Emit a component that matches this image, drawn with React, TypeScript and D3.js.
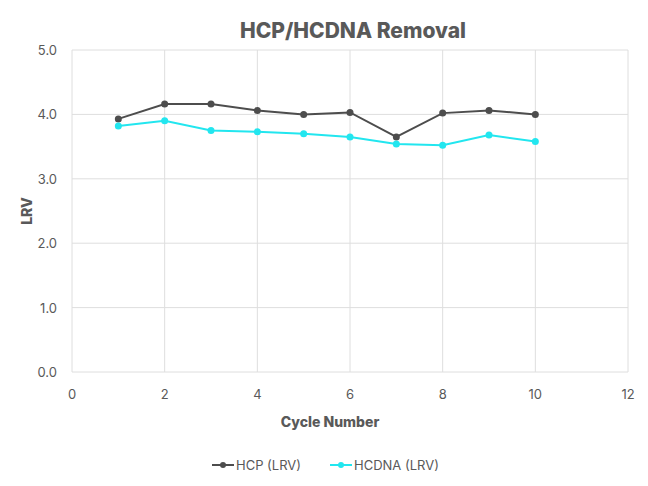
import React from "react";
import * as d3 from "d3";

const cycles = [1, 2, 3, 4, 5, 6, 7, 8, 9, 10];
const hcp = [3.93, 4.16, 4.16, 4.06, 4.0, 4.03, 3.65, 4.02, 4.06, 4.0];
const hcdna = [3.82, 3.9, 3.75, 3.73, 3.7, 3.65, 3.54, 3.52, 3.68, 3.58];
const xTicks = [0, 2, 4, 6, 8, 10, 12];
const yTicks = [0, 1, 2, 3, 4, 5];
const seriesNames = ["HCP (LRV)", "HCDNA (LRV)"];

const W = 648, H = 486;
const m = { left: 72, right: 20, top: 50, bottom: 114 };
const font = "Inter, 'Open Sans', sans-serif";
const colors = ["#4d4d4d", "#22e6ef"];
const textColor = "#595959";

export default function App() {
  const x = d3.scaleLinear().domain([0, 12]).range([m.left, W - m.right]);
  const y = d3.scaleLinear().domain([0, 5]).range([H - m.bottom, m.top]);
  const line = d3.line<[number, number]>().x(d => x(d[0])).y(d => y(d[1]));
  const series = [hcp, hcdna];
  const legendX = [212, 330];
  return (
    <svg width={W} height={H} style={{ position: "absolute", left: 0, top: 0, background: "#fff" }}>
      <text x={353} y={38} textAnchor="middle" fontFamily={font} fontWeight={800} fontSize={21} fill={textColor}>HCP/HCDNA Removal</text>
      {yTicks.map(t => (
        <g key={"y" + t}>
          <line x1={x(0)} x2={x(12)} y1={y(t)} y2={y(t)} stroke="#dedede" strokeWidth={1} />
          <text x={57} y={y(t) + 5} textAnchor="end" fontFamily={font} fontSize={13} fill={textColor}>{t.toFixed(1)}</text>
        </g>
      ))}
      {xTicks.map(t => (
        <g key={"x" + t}>
          <line x1={x(t)} x2={x(t)} y1={y(0)} y2={y(5)} stroke="#dedede" strokeWidth={1} />
          <text x={x(t)} y={399} textAnchor="middle" fontFamily={font} fontSize={13} fill={textColor}>{t}</text>
        </g>
      ))}
      <text x={330} y={427} textAnchor="middle" fontFamily={font} fontWeight={800} fontSize={14} fill={textColor}>Cycle Number</text>
      <text transform={`translate(32,${(y(0) + y(5)) / 2}) rotate(-90)`} textAnchor="middle" fontFamily={font} fontWeight={800} fontSize={14} fill={textColor}>LRV</text>
      {series.map((s, i) => {
        const pts = cycles.map((c, j) => [c, s[j]] as [number, number]);
        return (
          <g key={"s" + i}>
            <path d={line(pts) || ""} fill="none" stroke={colors[i]} strokeWidth={2} />
            {pts.map((p, j) => (
              <circle key={j} cx={x(p[0])} cy={y(p[1])} r={3.5} fill={colors[i]} />
            ))}
          </g>
        );
      })}
      {seriesNames.map((n, i) => (
        <g key={"l" + i} transform={`translate(${legendX[i]},465)`}>
          <line x1={0} x2={22} y1={0} y2={0} stroke={colors[i]} strokeWidth={2} />
          <circle cx={11} cy={0} r={3} fill={colors[i]} />
          <text x={24} y={5} fontFamily={font} fontSize={13} fill={textColor}>{n}</text>
        </g>
      ))}
    </svg>
  );
}
